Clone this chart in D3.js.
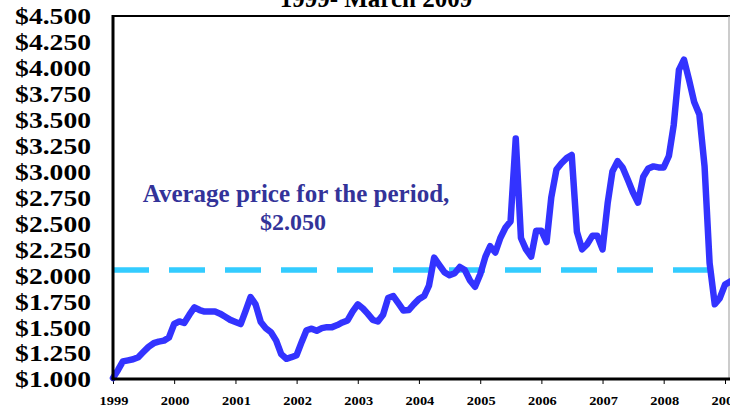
<!DOCTYPE html>
<html>
<head>
<meta charset="utf-8">
<script src="https://cdn.jsdelivr.net/npm/d3@7"></script>
<style>
  body { margin: 0; background: #fff; }
  svg { display: block; font-family: "Liberation Serif", "Times New Roman", serif; font-weight: bold; }
</style>
</head>
<body>
<div id="chart"></div>
<script>
// monthly prices, Jan 1999 - Mar 2009
var firstMonth = new Date(1999, 0, 1);
var prices = [
  1.01, 1.09, 1.17, 1.18, 1.19, 1.21, 1.26, 1.31, 1.345, 1.36, 1.37, 1.40,   // 1999
  1.53, 1.555, 1.54, 1.62, 1.69, 1.665, 1.65, 1.65, 1.65, 1.63, 1.60, 1.57,  // 2000
  1.55, 1.53, 1.65, 1.79, 1.72, 1.55, 1.49, 1.45, 1.37, 1.24, 1.195, 1.21,   // 2001
  1.23, 1.36, 1.47, 1.485, 1.465, 1.49, 1.50, 1.50, 1.52, 1.545, 1.565, 1.65,// 2002
  1.72, 1.68, 1.63, 1.57, 1.555, 1.62, 1.78, 1.80, 1.73, 1.66, 1.665, 1.72,  // 2003
  1.77, 1.80, 1.90, 2.17, 2.10, 2.03, 2.00, 2.02, 2.08, 2.05, 1.95, 1.89,    // 2004
  2.01, 2.18, 2.28, 2.22, 2.36, 2.46, 2.52, 3.32, 2.36, 2.25, 2.18, 2.43,    // 2005
  2.43, 2.32, 2.75, 3.02, 3.08, 3.13, 3.16, 2.42, 2.25, 2.30, 2.38, 2.38,    // 2006
  2.25, 2.70, 3.00, 3.10, 3.04, 2.92, 2.80, 2.70, 2.95, 3.03, 3.05, 3.04,    // 2007
  3.04, 3.15, 3.45, 3.98, 4.08, 3.88, 3.67, 3.55, 3.05, 2.12, 1.72, 1.78,    // 2008
  1.91, 1.94, 1.96                                                            // 2009
];
var averagePrice = 2.05;
var averageEnd = new Date(2008, 9, 15);
var yearLabels = ["1999", "2000", "2001", "2002", "2003", "2004", "2005", "2006", "2007", "2008", "2009"];
var priceTicks = [1, 1.25, 1.5, 1.75, 2, 2.25, 2.5, 2.75, 3, 3.25, 3.5, 3.75, 4, 4.25, 4.5];
var titleText = "1999- March 2009";
var noteLines = ["Average price for the period,", "$2.050"];

// chart box (note: don't call these top/left, window.top is taken)
var width = 730, height = 409;
var plotLeft = 113, plotRight = 725, plotTop = 16, plotBottom = 379;

var svg = d3.select("#chart").append("svg")
  .attr("width", width)
  .attr("height", height);

var data = prices.map(function (p, i) {
  return { date: d3.timeMonth.offset(firstMonth, i), price: p };
});

// scales
var xScale = d3.scaleTime()
  .domain([firstMonth, new Date(2009, 0, 1)])
  .range([plotLeft, plotRight]);
var yScale = d3.scaleLinear().domain([1, 4.5]).range([plotBottom, plotTop]);

// frame
svg.append("line")
  .attr("x1", plotLeft).attr("x2", width).attr("y1", plotTop).attr("y2", plotTop)
  .attr("stroke", "#000").attr("stroke-width", 2);
svg.append("line")
  .attr("x1", 729).attr("x2", 729).attr("y1", plotTop).attr("y2", plotBottom)
  .attr("stroke", "#999").attr("stroke-width", 1);

// x ticks (labels drawn separately, they are stretched)
var xAxis = d3.axisBottom(xScale)
  .tickValues(yearLabels.map(function (y) { return new Date(+y, 0, 1); }))
  .tickSize(5)
  .tickFormat("");
svg.append("g")
  .attr("transform", "translate(0," + plotBottom + ")")
  .call(xAxis)
  .call(function (g) {
    g.select(".domain").remove();
    g.selectAll(".tick line").attr("stroke", "#000").attr("stroke-width", 1);
  });

svg.append("g").selectAll("text")
  .data(yearLabels)
  .enter().append("text")
  .attr("transform", function (d) {
    return "translate(" + (xScale(new Date(+d, 0, 1)) + 1) + ",405) scale(1.2,1)";
  })
  .attr("text-anchor", "middle")
  .attr("font-size", 12)
  .text(function (d) { return d; });

// y labels
svg.append("g").selectAll("text")
  .data(priceTicks)
  .enter().append("text")
  .attr("transform", function (d) {
    return "translate(91," + yScale(d) + ") scale(1.15,1)";
  })
  .attr("dy", "0.35em")
  .attr("text-anchor", "end")
  .attr("font-size", 24)
  .text(function (d) { return "$" + d3.format(".3f")(d); });

// average line
svg.append("line")
  .attr("x1", xScale(firstMonth)).attr("x2", xScale(averageEnd))
  .attr("y1", yScale(averagePrice)).attr("y2", yScale(averagePrice))
  .attr("stroke", "#33ccff")
  .attr("stroke-width", 5.5)
  .attr("stroke-dasharray", "36,20");

// price line
var pathGenerator = d3.line()
  .x(function (d) { return xScale(d.date); })
  .y(function (d) { return yScale(d.price); });

svg.append("path")
  .attr("d", pathGenerator(data))
  .attr("fill", "none")
  .attr("stroke", "#3333ff")
  .attr("stroke-width", 6.5)
  .attr("stroke-linejoin", "round")
  .attr("stroke-linecap", "round");

// axis lines on top
svg.append("line")
  .attr("x1", plotLeft).attr("x2", plotLeft).attr("y1", plotTop - 1).attr("y2", plotBottom)
  .attr("stroke", "#000").attr("stroke-width", 3);
svg.append("line")
  .attr("x1", plotLeft - 1.5).attr("x2", width).attr("y1", plotBottom).attr("y2", plotBottom)
  .attr("stroke", "#000").attr("stroke-width", 3);

// title (its first line is cut off in the original)
svg.append("text")
  .attr("x", 376).attr("y", 7)
  .attr("text-anchor", "middle")
  .attr("font-size", 25)
  .text(titleText);

// note
svg.append("text")
  .attr("x", 296).attr("y", 202)
  .attr("text-anchor", "middle")
  .attr("font-size", 25)
  .attr("fill", "#333399")
  .text(noteLines[0]);
svg.append("text")
  .attr("x", 293).attr("y", 230)
  .attr("text-anchor", "middle")
  .attr("font-size", 24)
  .attr("fill", "#333399")
  .text(noteLines[1]);
</script>
</body>
</html>
